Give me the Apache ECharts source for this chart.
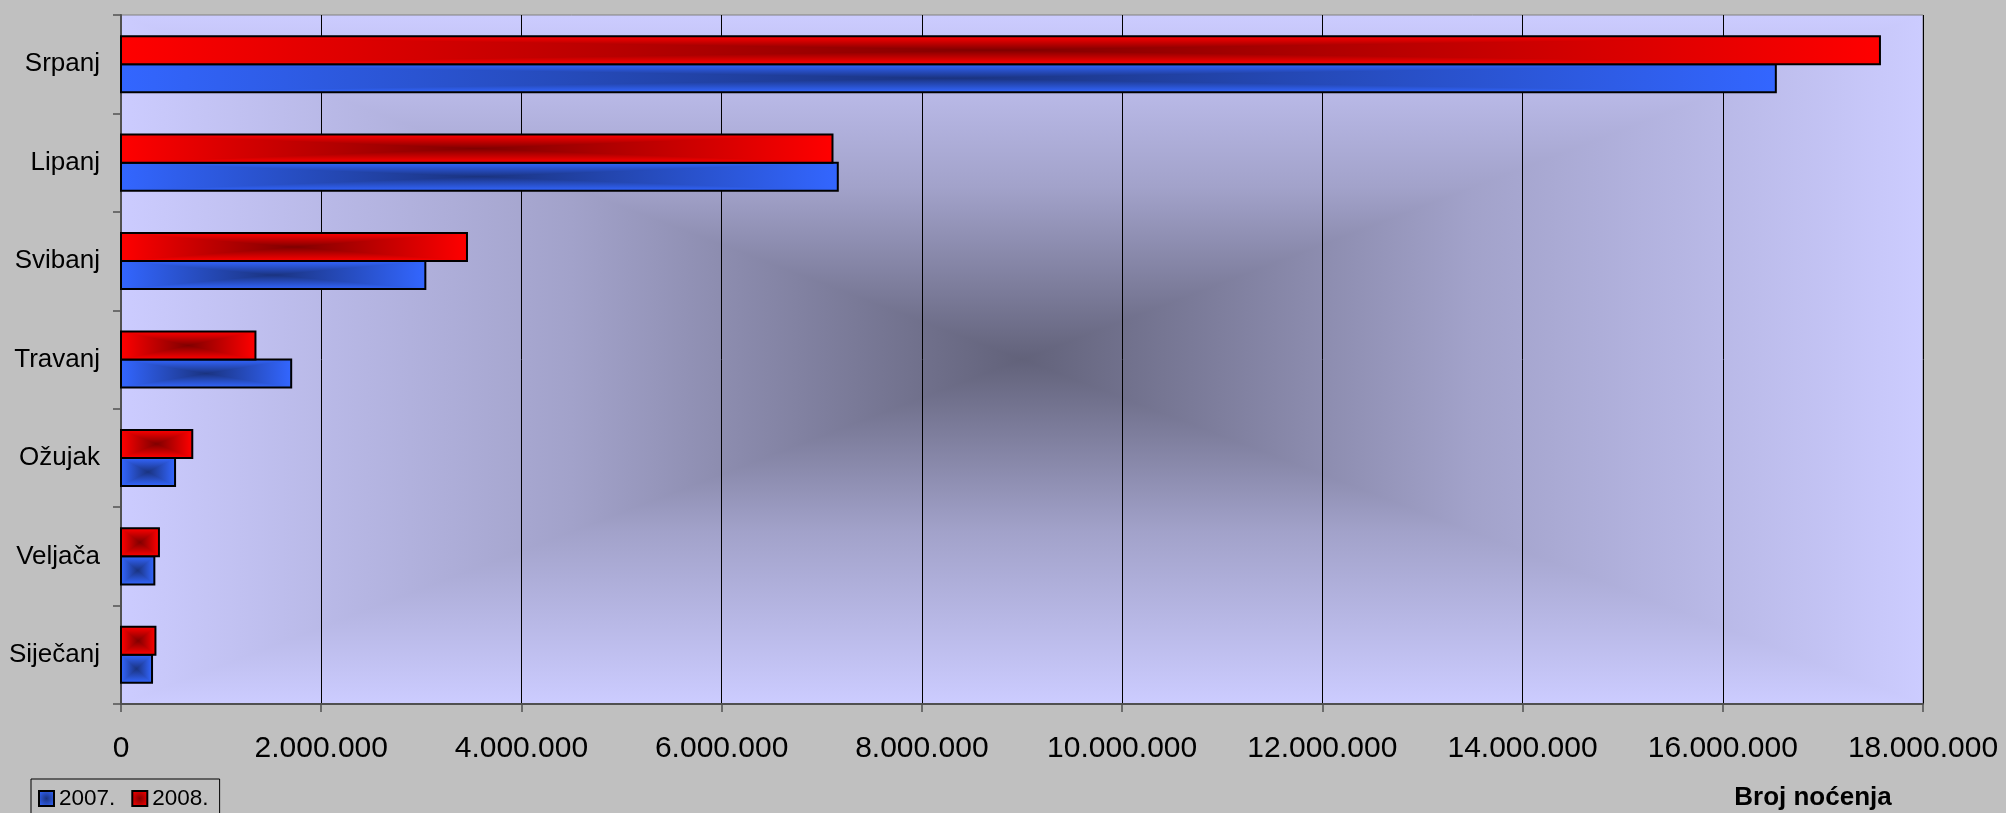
<!DOCTYPE html>
<html>
<head>
<meta charset="utf-8">
<script src="https://cdn.jsdelivr.net/npm/echarts@6/dist/echarts.min.js"></script>
<style>
html,body{margin:0;padding:0;background:#C0C0C0;}
#main{width:2006px;height:813px;}
</style>
</head>
<body>
<div id="main"></div>
<script>
// ---- data ----
const categories = ['Siječanj', 'Veljača', 'Ožujak', 'Travanj', 'Svibanj', 'Lipanj', 'Srpanj'];
const series2007 = [310000, 333000, 540000, 1700000, 3040000, 7160000, 16530000];
const series2008 = [344000, 379000, 712000, 1343000, 3456000, 7107000, 17570000];
const seriesNames = ['2007.', '2008.'];
const axisTitle = 'Broj noćenja';
const xMin = 0, xMax = 18000000, xInterval = 2000000;

// ---- layout ----
const W = 2006, H = 813;
const GRID = { left: 121, top: 15, right: 83, bottom: 109 };
const BAR_RATIO = 0.285;
const FONT = 'Liberation Sans, Arial, sans-serif';

const BLUE = { edge: '#3366FF', center: '#1A3380' };
const RED = { edge: '#FF0000', center: '#800000' };
const BG = { edge: '#CCCCFF', mid: '#A2A2CA', center: '#62627A' };

const LG = echarts.graphic.LinearGradient;
const RG = echarts.graphic.RadialGradient;

// rectangular "from center" gradient: vertical-gradient rect + left/right triangles with horizontal gradient
function rectFromCenter(x, y, w, h, c, z) {
  const cx = x + w / 2, cy = y + h / 2;
  const stops = c.mid
    ? [{ offset: 0, color: c.edge }, { offset: 0.5, color: c.mid }, { offset: 1, color: c.center }]
    : [{ offset: 0, color: c.edge }, { offset: 1, color: c.center }];
  const rev = stops.map(s => ({ offset: 1 - s.offset, color: s.color })).reverse();
  const vStops = stops.map(s => ({ offset: s.offset / 2, color: s.color }))
    .concat(rev.slice(1).map(s => ({ offset: 0.5 + s.offset / 2, color: s.color })));
  const els = [
    { type: 'rect', shape: { x: x, y: y, width: w, height: h },
      style: { fill: new LG(0, 0, 0, 1, vStops) } },
    { type: 'polygon', shape: { points: [[x, y], [cx, cy], [x, y + h]] },
      style: { fill: new LG(0, 0, 1, 0, stops) } },
    { type: 'polygon', shape: { points: [[x + w, y], [cx, cy], [x + w, y + h]] },
      style: { fill: new LG(0, 0, 1, 0, rev) } }
  ];
  if (z !== undefined) els.forEach(e => { e.z = z; e.silent = true; });
  return els;
}

function makeRender(dir, col) {
  return function (params, api) {
    const val = api.value(0), cat = api.value(1);
    const p0 = api.coord([0, cat]);
    const p1 = api.coord([val, cat]);
    const band = api.size([0, 1])[1];
    const bh = band * BAR_RATIO;
    const y0 = dir < 0 ? p0[1] - bh : p0[1];
    const x0 = p0[0], w = p1[0] - p0[0];
    const children = rectFromCenter(x0, y0, w, bh, col);
    children.push({ type: 'rect', shape: { x: x0, y: y0, width: w, height: bh },
      style: { fill: 'none', stroke: '#000', lineWidth: 2 } });
    return { type: 'group', children: children };
  };
}

const fmt = v => String(v).replace(/\B(?=(\d{3})+(?!\d))/g, '.');

const pw = W - GRID.left - GRID.right, ph = H - GRID.top - GRID.bottom;

const chart = echarts.init(document.getElementById('main'), null, { width: W, height: H });
chart.setOption({
  backgroundColor: '#C0C0C0',
  animation: false,
  textStyle: { fontFamily: FONT },
  grid: { left: GRID.left, top: GRID.top, right: GRID.right, bottom: GRID.bottom,
    show: true, borderColor: '#808080', borderWidth: 1, backgroundColor: 'transparent' },
  graphic: rectFromCenter(GRID.left, GRID.top, pw, ph, BG, -1).concat([
    { type: 'text', x: 1813, y: 798,
      style: { text: axisTitle, fontFamily: FONT, fontSize: 26, fontWeight: 'bold', fill: '#000',
        align: 'center', verticalAlign: 'middle', textAlign: 'center', textVerticalAlign: 'middle' } }
  ]),
  legend: {
    left: 31, top: 779, orient: 'horizontal',
    padding: [8, 11, 14, 7], borderColor: '#000', borderWidth: 1,
    itemWidth: 15, itemHeight: 15, itemGap: 16, selectedMode: false,
    textStyle: { fontSize: 22.5, color: '#000', fontFamily: FONT },
    data: [
      { name: seriesNames[0], icon: 'rect',
        itemStyle: { color: new RG(0.5, 0.5, 0.6, [{ offset: 0, color: BLUE.center }, { offset: 1, color: BLUE.edge }]),
          borderColor: '#000', borderWidth: 2 } },
      { name: seriesNames[1], icon: 'rect',
        itemStyle: { color: new RG(0.5, 0.5, 0.6, [{ offset: 0, color: RED.center }, { offset: 1, color: RED.edge }]),
          borderColor: '#000', borderWidth: 2 } }
    ]
  },
  xAxis: {
    type: 'value', min: xMin, max: xMax, interval: xInterval,
    axisLine: { show: true, lineStyle: { color: '#505050', width: 2 } },
    axisTick: { show: true, length: 8, lineStyle: { color: '#505050', width: 1.5 } },
    axisLabel: { fontSize: 30, color: '#000', margin: 30, formatter: fmt, fontFamily: FONT },
    splitLine: { show: true, lineStyle: { color: '#000', width: 1 } }
  },
  yAxis: {
    type: 'category', data: categories,
    axisLine: { show: true, lineStyle: { color: '#505050', width: 2 } },
    axisTick: { show: true, length: 8, lineStyle: { color: '#505050', width: 1.5 } },
    axisLabel: { fontSize: 26, color: '#000', margin: 21, fontFamily: FONT },
    splitLine: { show: false }
  },
  series: [
    { name: seriesNames[0], type: 'custom', coordinateSystem: 'cartesian2d',
      encode: { x: 0, y: 1 }, renderItem: makeRender(1, BLUE),
      itemStyle: { color: BLUE.edge },
      data: series2007.map((v, i) => [v, i]) },
    { name: seriesNames[1], type: 'custom', coordinateSystem: 'cartesian2d',
      encode: { x: 0, y: 1 }, renderItem: makeRender(-1, RED),
      itemStyle: { color: RED.edge },
      data: series2008.map((v, i) => [v, i]) }
  ]
});
</script>
</body>
</html>
